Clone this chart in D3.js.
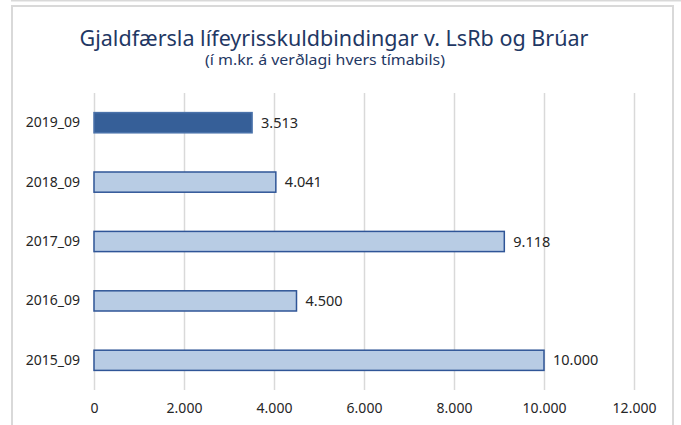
<!DOCTYPE html>
<html><head><meta charset="utf-8">
<script src="https://cdn.jsdelivr.net/npm/d3@7"></script>
<style>body{margin:0;background:#fff;} svg{display:block;}</style>
</head><body>
<svg id="c" width="681" height="425"></svg>
<script>
const categories = ["2019_09","2018_09","2017_09","2016_09","2015_09"];
const values = [3513, 4041, 9118, 4500, 10000];
const highlight = ["2019_09"];
const xTicks = [0, 2000, 4000, 6000, 8000, 10000, 12000];
const titleText = "Gjaldfærsla lífeyrisskuldbindingar v. LsRb og Brúar";
const subtitleText = "(í m.kr. á verðlagi hvers tímabils)";

const svg = d3.select("#c");
const font = "'Noto Sans', 'Open Sans', sans-serif";
const fmt = v => d3.format(",")(v).replace(/,/g, ".");

// frame
svg.append("line").attr("x1", 11).attr("x2", 681).attr("y1", 0.5).attr("y2", 0.5)
  .attr("stroke", "#d9d9d9").attr("stroke-width", 2);
svg.append("rect").attr("x", 12).attr("y", 6).attr("width", 661).attr("height", 440)
  .attr("fill", "#fff").attr("stroke", "#d9d9d9").attr("stroke-width", 2);

const x = d3.scaleLinear().domain([0, 12000]).range([94, 634]);
const y = d3.scaleBand().domain(categories).range([93, 390]).paddingInner(0.66).paddingOuter(0.33);

// gridlines
svg.append("g").selectAll("line").data(xTicks).join("line")
  .attr("x1", d => Math.round(x(d)) + 0.5).attr("x2", d => Math.round(x(d)) + 0.5)
  .attr("y1", 93).attr("y2", 390)
  .attr("stroke", "#d9d9d9").attr("stroke-width", 1.5);

// x axis
const xAxis = d3.axisBottom(x).tickValues(xTicks).tickFormat(fmt).tickSize(0).tickPadding(0);
const gx = svg.append("g").attr("transform", "translate(0,403)").call(xAxis);
gx.select(".domain").remove();
gx.selectAll("text").attr("font-family", font).attr("font-size", 14).attr("fill", "#262626").attr("dy", "0.71em");

// y axis labels
const yAxis = d3.axisLeft(y).tickSize(0).tickPadding(14);
const gy = svg.append("g").attr("transform", "translate(94,0)").call(yAxis);
gy.select(".domain").remove();
gy.selectAll("text").attr("font-family", font).attr("font-size", 14).attr("fill", "#262626");

// bars
svg.append("g").selectAll("rect").data(categories).join("rect")
  .attr("x", x(0))
  .attr("y", d => y(d))
  .attr("width", (d, i) => x(values[i]) - x(0))
  .attr("height", y.bandwidth())
  .attr("fill", d => highlight.includes(d) ? "#365f98" : "#b8cce4")
  .attr("stroke", d => highlight.includes(d) ? "#4a72aa" : "#2f5597")
  .attr("stroke-width", 1.5);

// value labels
svg.append("g").selectAll("text").data(categories).join("text")
  .attr("x", (d, i) => x(values[i]) + 9)
  .attr("y", d => y(d) + y.bandwidth() / 2)
  .attr("dy", "0.35em")
  .attr("font-family", font).attr("font-size", 14.5).attr("fill", "#262626")
  .text((d, i) => fmt(values[i]));

// titles
svg.append("text").attr("x", 334).attr("y", 46).attr("text-anchor", "middle")
  .attr("font-family", font).attr("font-size", 21).attr("fill", "#1f3864")
  .attr("textLength", 509).attr("lengthAdjust", "spacingAndGlyphs")
  .text(titleText);
svg.append("text").attr("x", 325).attr("y", 65).attr("text-anchor", "middle")
  .attr("font-family", font).attr("font-size", 13.5).attr("fill", "#1f3864")
  .attr("textLength", 240).attr("lengthAdjust", "spacingAndGlyphs")
  .text(subtitleText);
</script>
</body></html>
